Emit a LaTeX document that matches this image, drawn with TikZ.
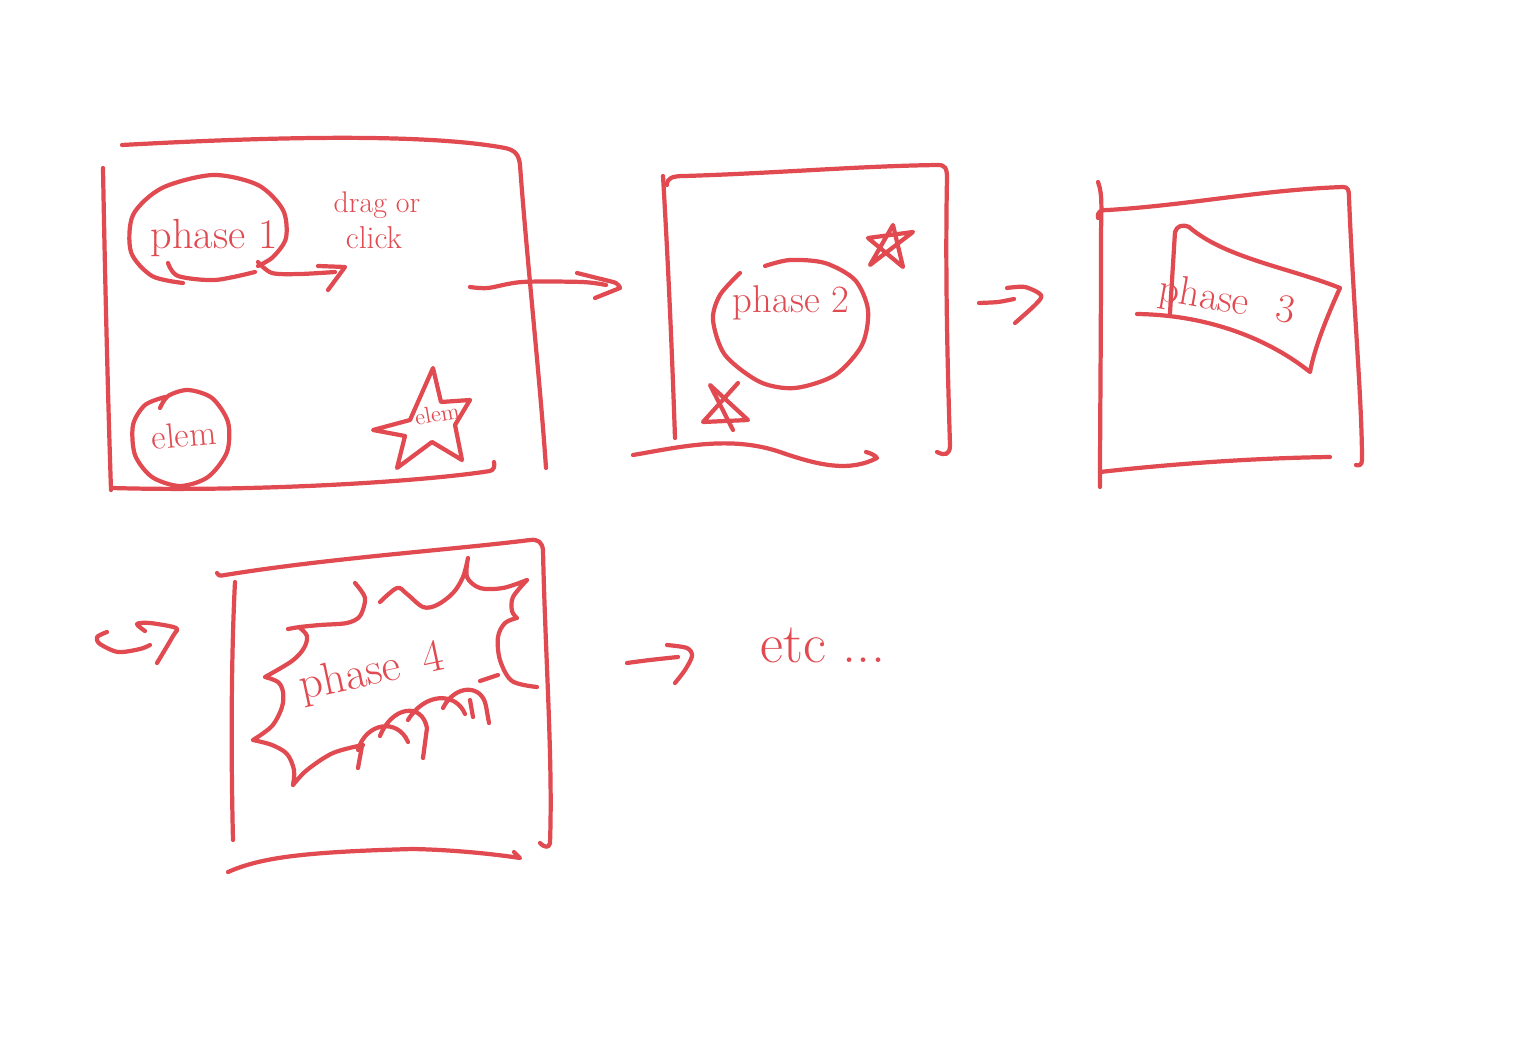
\documentclass[tikz,border=0pt]{standalone}
\definecolor{ink}{RGB}{224,74,80}
\begin{document}
\begin{tikzpicture}[x=0.02cm,y=-0.02cm,
  pen/.style={draw=ink,line width=2.4pt,line cap=round,line join=round},
  txt/.style={text=ink,inner sep=0pt}]
\useasboundingbox (0,0) rectangle (1516,1051);
\fill[white] (0,0) rectangle (1516,1051);

% ---------- frame 1 ----------
\draw[pen] (122,145) .. controls (250,138) and (420,132) .. (505,148)
  .. controls (515,150) and (519,155) .. (520,165)
  .. controls (527,260) and (540,380) .. (546,468);
\draw[pen] (103,168) .. controls (105,280) and (108,400) .. (111,490);
\draw[pen] (112,488) .. controls (250,492) and (420,482) .. (490,471)
  .. controls (494,470) and (495,466) .. (494,462);
% phase 1 blob
\draw[pen] plot[smooth] coordinates {(183,283) (152,276) (131,252) (133,215) (162,188) (213,175) (258,185) (283,210) (286,238) (273,257) (258,266)};
\draw[pen] plot[smooth] coordinates {(168,263) (178,276) (215,280) (255,272)};
\node[txt,font=\fontsize{24}{24}\selectfont] (ph1) at (214,238) {phase 1};
\node[txt,font=\fontsize{17}{17}\selectfont] (drag) at (377,205) {drag or};
\node[txt,font=\fontsize{18}{18}\selectfont] (click) at (374,238) {click};
\coordinate (p1out) at (258,262);
\coordinate (dragtip) at (345,267);
\draw[pen] plot[smooth] coordinates {(p1out) (272,273) (300,274) (335,272)};
\draw[pen] (318,266) -- (dragtip) -- (328,290);
% elem circle
\draw[pen] plot[smooth] coordinates {(165,397) (145,405) (133,425) (135,455) (152,477) (180,486) (208,477) (227,452) (228,422) (212,398) (188,390) (168,396) (160,408)};
\node[txt,font=\fontsize{20}{20}\selectfont,rotate=5] (elem1) at (184,435) {elem};
% elem star
\draw[pen] (433,368) -- (441,402) -- (470,400) -- (455,425) -- (462,460) -- (432,442) -- (397,468) -- (405,436) -- (373,430) -- (410,420) -- cycle;
\node[txt,font=\fontsize{13}{13}\selectfont,rotate=10] (elem2) at (437,414) {elem};

% ---------- arrow 1 -> 2 ----------
\coordinate (a1s) at (470,287);
\coordinate (a1e) at (620,288);
\draw[pen] plot[smooth] coordinates {(a1s) (488,288) (522,282) (582,282) (606,285)};
\draw[pen] plot[smooth,tension=0.4] coordinates {(577,273) (597,278) (616,283) (a1e)} -- (595,298);

% ---------- frame 2 ----------
\draw[pen] (663,176) .. controls (668,260) and (672,350) .. (675,438);
\draw[pen] (667,185) .. controls (667,178) and (672,176) .. (685,176)
  .. controls (780,173) and (860,166) .. (938,165)
  .. controls (945,165) and (947,168) .. (947,178)
  .. controls (945,280) and (948,380) .. (950,445)
  .. controls (950,455) and (945,456) .. (937,452);
\draw[pen] (633,455) .. controls (680,447) and (730,435) .. (780,452)
  .. controls (820,466) and (850,472) .. (877,458)
  .. controls (875,455) and (870,453) .. (866,452);
\draw[pen] plot[smooth] coordinates {(740,273) (720,295) (713,320) (725,355) (760,382) (795,388) (835,375) (862,345) (868,310) (855,280) (825,263) (790,260) (765,266)};
\node[txt,font=\fontsize{22}{22}\selectfont] (ph2) at (791,303) {phase 2};
\draw[pen] (870,265) -- (893,225) -- (903,267) -- (868,238) -- (913,232) -- cycle;
\draw[pen] (738,383) -- (703,422) -- (748,420) -- (710,385) -- (733,430);

% ---------- arrow 2 -> 3 ----------
\coordinate (a2s) at (979,303);
\coordinate (a2e) at (1041,295);
\draw[pen] plot[smooth] coordinates {(a2s) (998,302) (1014,299)};
\draw[pen] plot[smooth,tension=0.5] coordinates {(1007,288) (1025,287) (a2e) (1036,304) (1015,323)};

% ---------- frame 3 ----------
\draw[pen] (1098,182) .. controls (1103,195) and (1101,210) .. (1101,240)
  .. controls (1101,350) and (1100,420) .. (1100,487);
\draw[pen] (1098,218) .. controls (1097,212) and (1100,210) .. (1108,210)
  .. controls (1190,205) and (1260,190) .. (1343,187)
  .. controls (1348,187) and (1349,190) .. (1349,197)
  .. controls (1353,300) and (1362,400) .. (1362,460)
  .. controls (1362,465) and (1359,466) .. (1356,465);
\draw[pen] (1100,472) .. controls (1180,463) and (1260,458) .. (1330,457);
\draw[pen] (1170,313) -- (1175,232) .. controls (1177,226) and (1182,224) .. (1189,227)
  .. controls (1225,258) and (1290,268) .. (1340,288)
  .. controls (1330,310) and (1315,345) .. (1310,372)
  .. controls (1270,340) and (1210,315) .. (1137,314);
\node[txt,font=\fontsize{23}{23}\selectfont,rotate=-10,anchor=base west] (ph3) at (1157,300) {phase\hspace{0.7em}3};

% ---------- arrow 3 -> 4 ----------
\coordinate (a3s) at (97,637);
\coordinate (a3e) at (176,628);
\draw[pen] plot[smooth] coordinates {(107,632) (a3s) (100,644) (118,652) (140,649) (150,645)};
\draw[pen] plot[smooth,tension=0.5] coordinates {(145,631) (137,624) (150,623) (a3e) (173,636) (157,663)};

% ---------- frame 4 ----------
\draw[pen] (217,573) .. controls (219,576) and (220,576) .. (225,575)
  .. controls (330,558) and (450,550) .. (530,540)
  .. controls (538,539) and (542,542) .. (543,550)
  .. controls (545,650) and (553,760) .. (550,843)
  .. controls (549,848) and (545,848) .. (540,843);
\draw[pen] (235,582) .. controls (231,660) and (231,760) .. (233,840);
\draw[pen] (228,872) .. controls (260,858) and (300,852) .. (413,849)
  .. controls (460,850) and (500,855) .. (520,858) -- (514,852);
% burst
\draw[pen] plot[smooth] coordinates {(355,583) (365,598) (360,616) (347,623) (320,625) (300,627) (288,629)};
\draw[pen] plot[smooth,tension=0.55] coordinates {(300,628) (307,636) (304,648) (292,661) (265,677)}
  plot[smooth,tension=0.55] coordinates {(265,677) (278,682) (283,692) (282,707) (272,726) (253,740)}
  plot[smooth,tension=0.55] coordinates {(253,740) (272,745) (287,754) (294,770) (293,785)}
  plot[smooth,tension=0.55] coordinates {(293,785) (307,770) (333,753) (363,745)};
\draw[pen] (358,750) .. controls (366,722) and (398,718) .. (408,742)
  (380,736) .. controls (392,706) and (422,702) .. (427,728) -- (423,758)
  (408,720) .. controls (425,692) and (456,692) .. (465,714)
  (443,708) .. controls (455,684) and (482,684) .. (486,706) -- (489,723)
  (470,700) -- (473,717)
  (362,746) -- (358,768);
\draw[pen] (480,681) -- (498,675);
\draw[pen] plot[smooth,tension=0.55] coordinates {(537,687) (512,681) (500,660) (498,637) (505,623) (517,618)}
  plot[smooth,tension=0.55] coordinates {(517,618) (512,611) (513,597) (527,580)}
  plot[smooth,tension=0.55] coordinates {(527,580) (503,588) (480,588) (467,577) (468,558)}
  plot[smooth,tension=0.55] coordinates {(468,558) (463,577) (453,593) (437,605) (423,607) (407,594) (397,588) (380,602)};
\node[txt,font=\fontsize{26}{26}\selectfont,rotate=12,anchor=base west] (ph4) at (302,700) {phase\hspace{0.5em}4};

% ---------- arrow 4 -> etc ----------
\coordinate (a4s) at (627,663);
\coordinate (a4e) at (692,656);
\draw[pen] plot[smooth] coordinates {(a4s) (650,660) (678,657)};
\draw[pen] plot[smooth,tension=0.5] coordinates {(667,645) (687,648) (a4e) (685,670) (675,683)};
\node[txt,font=\fontsize{32}{32}\selectfont,anchor=base west] (etc) at (760,662) {etc ...};
\end{tikzpicture}
\end{document}
